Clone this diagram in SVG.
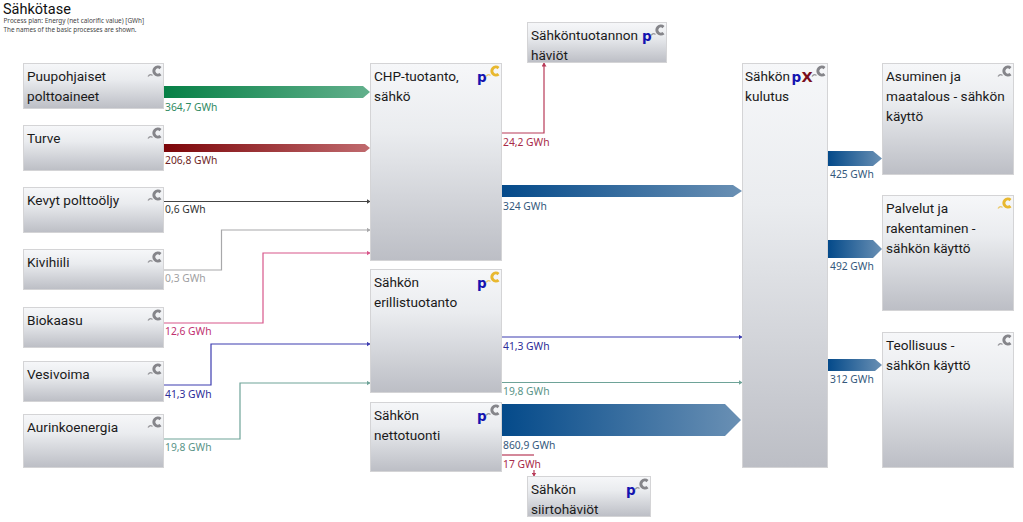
<svg xmlns="http://www.w3.org/2000/svg" width="1023" height="522" viewBox="0 0 1023 522">
<style>
text{font-family:"Noto Sans","DejaVu Sans",sans-serif;}
.box{fill:url(#nodeFill);stroke:#d4d4d6;stroke-width:1;}
.name{font-size:13.6px;fill:#1a1a1a;font-family:Roboto,"Noto Sans",sans-serif;}
.val{font-size:10.3px;}
.flow{fill:none;stroke-width:1.2;}
.p{font-size:13.5px;font-weight:bold;fill:#1414b0;font-family:"DejaVu Sans",sans-serif;}
.x{font-size:14.5px;font-weight:bold;fill:#7a0f1e;font-family:"DejaVu Sans",sans-serif;}
</style>
<defs>
<linearGradient id="nodeFill" x1="0" y1="0" x2="0" y2="1"><stop offset="0" stop-color="#f6f7f9"/><stop offset="0.35" stop-color="#eaecef"/><stop offset="1" stop-color="#bcbec5"/></linearGradient>
<linearGradient id="g" x1="0" x2="1" y1="0" y2="0"><stop offset="0" stop-color="#068046"/><stop offset="1" stop-color="#62b08c"/></linearGradient>
<linearGradient id="r" x1="0" x2="1" y1="0" y2="0"><stop offset="0" stop-color="#7c0508"/><stop offset="1" stop-color="#c06a6e"/></linearGradient>
<linearGradient id="b" x1="0" x2="1" y1="0" y2="0"><stop offset="0" stop-color="#044a8a"/><stop offset="1" stop-color="#6a90b4"/></linearGradient>
<symbol id="cg" viewBox="0 0 16 14" width="16" height="14" overflow="visible"><path d="M12.500 3A4 4 0 1 0 12.500 9" fill="none" stroke="#85858a" stroke-width="3"/><path d="M0 11.500Q2 8.500 4.500 10.500" fill="none" stroke="#9a9a9e" stroke-width="1.300"/></symbol>
<symbol id="cy" viewBox="0 0 16 14" width="16" height="14" overflow="visible"><path d="M12.500 3A4 4 0 1 0 12.500 9" fill="none" stroke="#e8b830" stroke-width="3"/><path d="M0 11.500Q2 8.500 4.500 10.500" fill="none" stroke="#eccb70" stroke-width="1.300"/></symbol>
<marker id="tip" markerWidth="4" markerHeight="5" refX="3.500" refY="2.500" orient="auto" markerUnits="userSpaceOnUse"><path d="M0 0L4 2.500L0 5Z" fill="context-stroke"/></marker>
</defs>
<g id="title">
<text x="3" y="13.500" font-size="14.500" fill="#111" style="font-family:Roboto,sans-serif">Sähkötase</text>
<text x="3.500" y="23" font-size="6.400" fill="#444">Process plan: Energy (net calorific value) [GWh]</text>
<text x="3.500" y="32" font-size="6.300" fill="#444">The names of the basic processes are shown.</text>
</g>
<g id="connectors">
<path d="M163 86H363L370 92L363 98H163Z" fill="url(#g)"/>
<path d="M163 144H365L370 148L365 152H163Z" fill="url(#r)"/>
<path class="flow" stroke="#444" marker-end="url(#tip)" d="M163 201.500H370"/>
<path class="flow" stroke="#a8a8aa" marker-end="url(#tip)" d="M163 270H221.500V230H370"/>
<path class="flow" stroke="#d8568a" marker-end="url(#tip)" d="M163 323H263V253H370"/>
<path class="flow" stroke="#3d3db0" marker-end="url(#tip)" d="M163 385H211V344H370"/>
<path class="flow" stroke="#6ea398" marker-end="url(#tip)" d="M163 439H240V383H370"/>
<path class="flow" stroke="#b83a58" marker-end="url(#tip)" d="M502 133H544V63"/>
<path d="M502 185H733L742 191L733 197H502Z" fill="url(#b)"/>
<path class="flow" stroke="#3d3db0" marker-end="url(#tip)" d="M502 337H742"/>
<path class="flow" stroke="#6ea398" marker-end="url(#tip)" d="M502 382.500H742"/>
<path d="M502 404H725L741 420L725 436H502Z" fill="url(#b)"/>
<path class="flow" stroke="#b83a58" d="M502 455H534"/>
<path class="flow" stroke="#b83a58" marker-end="url(#tip)" d="M534 470V476"/>
<path d="M828 151H873L882 158.500L873 166H828Z" fill="url(#b)"/>
<path d="M828 240H873L882 249L873 258H828Z" fill="url(#b)"/>
<path d="M828 359H875L882 365L875 371H828Z" fill="url(#b)"/>
<g class="val">
<text x="165" y="111" fill="#2f8a62">364,7 GWh</text>
<text x="165" y="164" fill="#6e1f26">206,8 GWh</text>
<text x="165" y="213" fill="#333">0,6 GWh</text>
<text x="165" y="282" fill="#a0a0a2">0,3 GWh</text>
<text x="165" y="335" fill="#c03070">12,6 GWh</text>
<text x="165" y="398" fill="#2c2c98">41,3 GWh</text>
<text x="165" y="451" fill="#5a9488">19,8 GWh</text>
<text x="503" y="146" fill="#a82a48">24,2 GWh</text>
<text x="503" y="210" fill="#34587c">324 GWh</text>
<text x="503" y="350" fill="#2c2c98">41,3 GWh</text>
<text x="503" y="395" fill="#5a9488">19,8 GWh</text>
<text x="503" y="449" fill="#34587c">860,9 GWh</text>
<text x="503" y="468" fill="#a82a48">17 GWh</text>
<text x="830" y="178" fill="#34587c">425 GWh</text>
<text x="830" y="270" fill="#34587c">492 GWh</text>
<text x="830" y="383" fill="#34587c">312 GWh</text>
</g>
</g>
<g id="n-puu"><rect class="box" x="23.500" y="63.500" width="140" height="45"/><text class="name" x="27" y="81">Puupohjaiset</text><text class="name" x="27" y="101">polttoaineet</text><use href="#cg" x="148" y="65"/></g>
<g id="n-turve"><rect class="box" x="23.500" y="125.500" width="140" height="45"/><text class="name" x="27" y="143">Turve</text><use href="#cg" x="148" y="127"/></g>
<g id="n-kevyt"><rect class="box" x="23.500" y="187.500" width="140" height="45"/><text class="name" x="27" y="205">Kevyt polttoöljy</text><use href="#cg" x="148" y="189"/></g>
<g id="n-kivi"><rect class="box" x="23.500" y="249.500" width="140" height="40"/><text class="name" x="27" y="267">Kivihiili</text><use href="#cg" x="148" y="251"/></g>
<g id="n-bio"><rect class="box" x="23.500" y="307.500" width="140" height="40"/><text class="name" x="27" y="325">Biokaasu</text><use href="#cg" x="148" y="309"/></g>
<g id="n-vesi"><rect class="box" x="23.500" y="361.500" width="140" height="40"/><text class="name" x="27" y="379">Vesivoima</text><use href="#cg" x="148" y="363"/></g>
<g id="n-aur"><rect class="box" x="23.500" y="414.500" width="140" height="53"/><text class="name" x="27" y="432">Aurinkoenergia</text><use href="#cg" x="148" y="416"/></g>
<g id="n-chp"><rect class="box" x="370.500" y="63.500" width="131" height="197"/><text class="name" x="374" y="81">CHP-tuotanto,</text><text class="name" x="374" y="101">sähkö</text><text class="p" x="477" y="82">p</text><use href="#cy" x="486" y="65"/></g>
<g id="n-eri"><rect class="box" x="370.500" y="269.500" width="131" height="123"/><text class="name" x="374" y="287">Sähkön</text><text class="name" x="374" y="307">erillistuotanto</text><text class="p" x="477" y="288">p</text><use href="#cy" x="486" y="271"/></g>
<g id="n-netto"><rect class="box" x="370.500" y="402.500" width="131" height="69"/><text class="name" x="374" y="420">Sähkön</text><text class="name" x="374" y="440">nettotuonti</text><text class="p" x="477" y="421">p</text><use href="#cg" x="486" y="404"/></g>
<g id="n-tuothav"><rect class="box" x="527.500" y="22.500" width="139" height="40"/><text class="name" x="531" y="40">Sähköntuotannon</text><text class="name" x="531" y="60">häviöt</text><text class="p" x="642" y="41">p</text><use href="#cg" x="651" y="24"/></g>
<g id="n-kulutus"><rect class="box" x="742.500" y="63.500" width="85" height="404"/><text class="name" x="745" y="81">Sähkön</text><text class="name" x="745" y="101">kulutus</text><text class="p" x="791.500" y="82">p</text><text class="x" x="801.500" y="82">X</text><use href="#cg" x="812" y="65"/></g>
<g id="n-asu"><rect class="box" x="882.500" y="63.500" width="131" height="111"/><text class="name" x="886" y="81">Asuminen ja</text><text class="name" x="886" y="101">maatalous - sähkön</text><text class="name" x="886" y="121">käyttö</text><use href="#cg" x="998" y="65"/></g>
<g id="n-pal"><rect class="box" x="882.500" y="195.500" width="131" height="115"/><text class="name" x="886" y="213">Palvelut ja</text><text class="name" x="886" y="233">rakentaminen -</text><text class="name" x="886" y="253">sähkön käyttö</text><use href="#cy" x="998" y="197"/></g>
<g id="n-teo"><rect class="box" x="882.500" y="332.500" width="131" height="135"/><text class="name" x="886" y="350">Teollisuus -</text><text class="name" x="886" y="370">sähkön käyttö</text><use href="#cg" x="998" y="334"/></g>
<g id="n-siirto"><rect class="box" x="527.500" y="476.500" width="123" height="40"/><text class="name" x="531" y="494">Sähkön</text><text class="name" x="531" y="514">siirtohäviöt</text><text class="p" x="626" y="495">p</text><use href="#cg" x="635" y="478"/></g>
</svg>
